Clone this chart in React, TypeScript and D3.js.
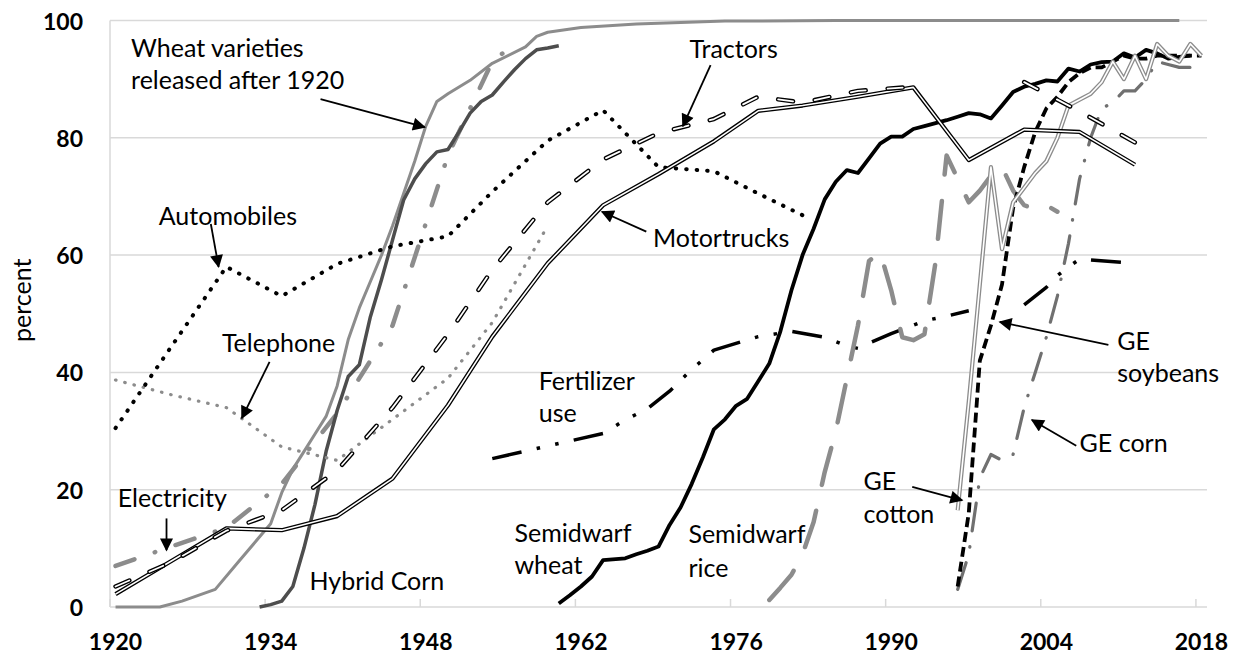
import React from "react";
import * as d3 from "d3";

const W = 1239;
const H = 656;
const PLOT = { left: 110, right: 1207, top: 20.5, bottom: 607 };
const FONT = "Lato, 'Open Sans', 'DejaVu Sans', sans-serif";

type Pt = [number, number | null];

// x axis / y axis
const xTickYears = [1920, 1934, 1948, 1962, 1976, 1990, 2004, 2018];
const yTicks = [0, 20, 40, 60, 80, 100];

// series (year, percent)
const wheatVarieties: Pt[] = [
  [1920, 0], [1924, 0], [1926, 1], [1929, 3], [1931, 7.5], [1934, 14.2], [1935, 19.5],
  [1936, 23.5], [1937, 26.5], [1938, 29.5], [1939, 32.5], [1940, 37.7], [1941, 45.6],
  [1942, 51], [1943, 55.5], [1944, 60], [1945, 65], [1946, 70.5], [1947, 76], [1948, 82],
  [1949, 86.2], [1950, 87.5], [1952, 89.8], [1954, 92.7], [1957, 95.5], [1958, 97.3],
  [1959, 98], [1962, 98.8], [1967, 99.4], [1975, 99.9], [1985, 100], [2016, 100],
];
const hybridCorn: Pt[] = [
  [1933, 0], [1934, 0.4], [1935, 1], [1936, 3.5], [1937, 10], [1938, 17.5], [1939, 26.5],
  [1940, 33.5], [1941, 39.3], [1942, 41.3], [1943, 49.5], [1944, 55.8], [1945, 62.6],
  [1946, 69.4], [1947, 73], [1948, 75.6], [1949, 77.6], [1950, 78], [1951, 81], [1952, 84.2],
  [1953, 86.2], [1954, 87.3], [1955, 89.5], [1956, 91.6], [1957, 93.5], [1958, 95],
  [1959, 95.3], [1960, 95.7],
];
const electricity: Pt[] = [
  [1920, 7], [1925, 10.3], [1930, 13.5], [1935, 21], [1940, 33], [1945, 48], [1950, 77],
  [1954, 93], [1956, 96],
];
const telephone: Pt[] = [
  [1920, 38.7], [1925, 36.2], [1930, 34], [1935, 27.3], [1940, 25], [1945, 32], [1950, 39],
  [1954, 48.5], [1959, 65],
];
const automobiles: Pt[] = [
  [1920, 30.5], [1925, 44.3], [1930, 58], [1935, 53], [1940, 58.5], [1945, 61.5],
  [1950, 63.2], [1954, 70.8], [1959, 79.5], [1964, 84.7], [1969, 75], [1974, 74.3],
  [1978, 70.5], [1982, 66.8],
];
const tractors: Pt[] = [
  [1920, 3.5], [1925, 7.6], [1930, 13], [1935, 16.5], [1940, 23.3], [1945, 34], [1950, 46.5],
  [1954, 57.5], [1959, 69], [1964, 76.3], [1969, 80.8], [1974, 83.2], [1978, 87], [1982, 86],
  [1987, 88], [1992, 88.7], [1997, null], [2002, 89.5], [2007, 84.5], [2012, 79.2],
];
const motortrucks: Pt[] = [
  [1920, 2.2], [1925, 7.8], [1930, 13.4], [1935, 13.1], [1940, 15.5], [1945, 21.9],
  [1950, 34.4], [1954, 46.1], [1959, 58.6], [1964, 68.5], [1969, 73.8], [1974, 79.4],
  [1978, 84.6], [1982, 85.5], [1987, 87], [1992, 88.6], [1997, 76.2], [2002, 81.4],
  [2007, 81], [2012, 75.4],
];
const fertilizer: Pt[] = [
  [1954, 25.3], [1964, 29.6], [1966, 31.9], [1968, 33.8], [1970, 36.8], [1972, 40.5],
  [1974, 43.8], [1978, 46.1], [1981, 47], [1984, 46], [1986, 44.5], [1987, 44.1], [1988, 45],
  [1990, 46.6], [1993, 48.8], [1995, 49.6], [1997, 50.5], [1999, null], [2002, 51.5],
  [2004, 54.5], [2005, 56.5], [2006, 58], [2007, 59.3], [2012, 58.6],
];
const semidwarfWheat: Pt[] = [
  [1960, 0.6], [1961, 2], [1962, 3.5], [1963, 5.2], [1964, 8], [1966, 8.3], [1967, 9],
  [1968, 9.6], [1969, 10.3], [1970, 14], [1971, 17], [1972, 21], [1973, 25.5], [1974, 30.3],
  [1975, 32], [1976, 34.3], [1977, 35.5], [1978, 38.5], [1979, 41.5], [1980, 47], [1981, 54],
  [1982, 60], [1983, 64.5], [1984, 69.5], [1985, 72.5], [1986, 74.5], [1987, 74],
  [1988, 76.5], [1989, 79], [1990, 80.2], [1991, 80.2], [1992, 81.5], [1993, 82],
  [1994, 82.5], [1995, 83], [1996, 83.6], [1997, 84.2], [1998, 84], [1999, 83.3],
  [2000, 85.5], [2001, 87.8], [2002, 88.7], [2003, 89.2], [2004, 89.8], [2005, 89.6],
  [2006, 91.8], [2007, 91.3], [2008, 92.5], [2009, 92.9], [2010, 93], [2011, 94.4],
  [2012, 93.7], [2013, 95], [2014, 94.4], [2015, 93.5], [2016, 93.8], [2017, 94],
];
const semidwarfRice: Pt[] = [
  [1979, 1.2], [1980, 3.3], [1981, 5.5], [1982, 9], [1983, 14.5], [1984, 23], [1985, 30],
  [1986, 39], [1987, 48], [1988, 59], [1989, 60.5], [1990, 54], [1991, 46], [1992, 45.5],
  [1993, 46.5], [1994, 58.8], [1995, 77], [1996, 73], [1997, 69], [1998, 71], [1999, 73.5],
  [2000, 75], [2001, 71], [2002, 68.5], [2003, 67.8], [2004, 68.5], [2005, 67.4],
];
const geSoybeans: Pt[] = [
  [1996, 3.5], [1997, 16], [1998, 42], [1999, 48], [2000, 55], [2001, 68], [2002, 75],
  [2003, 81], [2004, 85], [2005, 87], [2006, 89.5], [2007, 91], [2008, 92], [2009, 92],
  [2010, 93], [2011, 94], [2012, 93.5], [2013, 93.5], [2014, 94], [2015, 94], [2016, 94],
  [2017, 94], [2018, 94],
];
const geCorn: Pt[] = [
  [1996, 3], [1997, 9], [1998, 22], [1999, 26], [2000, 25], [2001, 26], [2002, 34],
  [2003, 40], [2004, 46], [2005, 53], [2006, 62], [2007, 73], [2008, 80], [2009, 85],
  [2010, 86], [2011, 88], [2012, 88], [2013, 90], [2014, 93], [2015, 92.5], [2016, 92],
  [2017, 92],
];
const geCotton: Pt[] = [
  [1996, 16.5], [1997, 35], [1998, 55], [1999, 75], [2000, 61], [2001, 69], [2002, 71.5],
  [2003, 74], [2004, 76], [2005, 80], [2006, 85.5], [2007, 86.5], [2008, 87.5], [2009, 89.5],
  [2010, 93], [2011, 90], [2012, 94], [2013, 90], [2014, 96], [2015, 94], [2016, 93],
  [2017, 96], [2018, 94],
];

type SeriesStyle = {
  data: Pt[];
  stroke: string;
  width: number;
  dash?: string;
  cap?: "round" | "butt";
  inner?: number; // white centre line -> outlined / double line
};

// draw order
const SERIES: SeriesStyle[] = [
  { data: wheatVarieties, stroke: "#8c8c8c", width: 3 },
  { data: electricity, stroke: "#8c8c8c", width: 4.5, dash: "20 21.5 0.5 21.5", cap: "round" },
  { data: hybridCorn, stroke: "#4d4d4d", width: 3.5 },
  { data: telephone, stroke: "#8c8c8c", width: 3.2, dash: "0.5 9", cap: "round" },
  { data: automobiles, stroke: "#000", width: 4, dash: "0.5 10", cap: "round" },
  { data: fertilizer, stroke: "#000", width: 3.5, dash: "30 15.5 3.5 15.5 3.5 15.5" },
  { data: semidwarfWheat, stroke: "#000", width: 3.8 },
  { data: semidwarfRice, stroke: "#8c8c8c", width: 4.5, dash: "38 26.5", cap: "round" },
  { data: geCorn, stroke: "#707070", width: 3.2, dash: "28 16 0.5 16", cap: "round" },
  { data: geSoybeans, stroke: "#000", width: 3.8, dash: "10 5" },
  { data: geCotton, stroke: "#8c8c8c", width: 4.2, inner: 1.6 },
  { data: motortrucks, stroke: "#000", width: 4.2, inner: 1.6 },
  { data: tractors, stroke: "#000", width: 4.5, dash: "15 22", cap: "round", inner: 1.8 },
];

// annotations in data units: [year, percent]
const LABELS: { lines: string[]; at: [number, number]; step: number }[] = [
  { lines: ["Wheat varieties", "released after 1920"], at: [1921.4, 93.8], step: 5.4 },
  { lines: ["Automobiles"], at: [1923.9, 65.1], step: 0 },
  { lines: ["Tractors"], at: [1971.8, 93.6], step: 0 },
  { lines: ["Motortrucks"], at: [1968.5, 61.4], step: 0 },
  { lines: ["Telephone"], at: [1929.6, 43.5], step: 0 },
  { lines: ["Electricity"], at: [1920.2, 17.0], step: 0 },
  { lines: ["Hybrid Corn"], at: [1937.5, 2.9], step: 0 },
  { lines: ["Fertilizer", "use"], at: [1958.2, 37.0], step: 5.4 },
  { lines: ["Semidwarf", "wheat"], at: [1956.0, 11.1], step: 5.5 },
  { lines: ["Semidwarf", "rice"], at: [1971.7, 10.9], step: 5.7 },
  { lines: ["GE", "soybeans"], at: [2010.4, 43.8], step: 5.4 },
  { lines: ["GE corn"], at: [2007.0, 26.5], step: 0 },
  { lines: ["GE", "cotton"], at: [1987.5, 19.9], step: 5.5 },
];

const ARROWS: { from: [number, number]; to: [number, number] }[] = [
  { from: [1938.5, 86.6], to: [1947.9, 81.8] },
  { from: [1928.6, 65.3], to: [1929.3, 58.0] },
  { from: [1973.7, 92.4], to: [1971.2, 82.0] },
  { from: [1967.9, 64.0], to: [1963.9, 67.4] },
  { from: [1933.9, 41.8], to: [1931.4, 32.2] },
  { from: [1924.6, 15.1], to: [1924.6, 9.7] },
  { from: [2009.6, 44.7], to: [1999.8, 48.6] },
  { from: [2006.7, 27.5], to: [2002.7, 31.9] },
  { from: [1991.9, 20.5], to: [1996.4, 18.2] },
];

const x = d3.scaleLinear().domain([1919.5, 2018.5]).range([PLOT.left, PLOT.right]);
const y = d3.scaleLinear().domain([0, 100]).range([PLOT.bottom, PLOT.top]);

const lineGen = d3
  .line<Pt>()
  .defined((d) => d[1] !== null)
  .x((d) => x(d[0]))
  .y((d) => y(d[1] as number));

const GRID = "#d9d9d9";

export default function App() {
  return (
    <svg
      width={W}
      height={H}
      style={{ position: "absolute", left: 0, top: 0, background: "#fff" }}
      fontFamily={FONT}
    >
      <defs>
        <marker
          id="arrowhead"
          viewBox="0 0 10 10"
          refX="9"
          refY="5"
          markerWidth="16"
          markerHeight="13"
          markerUnits="userSpaceOnUse"
          orient="auto"
        >
          <path d="M0,0 L10,5 L0,10 z" fill="#000" />
        </marker>
      </defs>

      {/* gridlines */}
      {yTicks.map((t) => (
        <line key={t} x1={PLOT.left} x2={PLOT.right} y1={y(t)} y2={y(t)} stroke={GRID} strokeWidth={1.5} />
      ))}
      <line x1={PLOT.left} x2={PLOT.left} y1={PLOT.top} y2={PLOT.bottom} stroke={GRID} strokeWidth={1.5} />
      {xTickYears.map((t) => (
        <line key={t} x1={x(t - 0.5)} x2={x(t - 0.5)} y1={PLOT.bottom} y2={PLOT.bottom - 8} stroke={GRID} strokeWidth={1.5} />
      ))}

      {/* series */}
      {SERIES.map((s, i) => {
        const d = lineGen(s.data) || "";
        return (
          <g key={i}>
            <path
              d={d}
              fill="none"
              stroke={s.stroke}
              strokeWidth={s.width}
              strokeDasharray={s.dash}
              strokeLinecap={s.cap || "butt"}
              strokeLinejoin="round"
            />
            {s.inner && (
              <path
                d={d}
                fill="none"
                stroke="#fff"
                strokeWidth={s.inner}
                strokeDasharray={s.dash}
                strokeLinecap={s.cap || "butt"}
                strokeLinejoin="round"
              />
            )}
          </g>
        );
      })}

      {/* arrows */}
      {ARROWS.map((a, i) => (
        <line
          key={i}
          x1={x(a.from[0])}
          y1={y(a.from[1])}
          x2={x(a.to[0])}
          y2={y(a.to[1])}
          stroke="#000"
          strokeWidth={1.8}
          markerEnd="url(#arrowhead)"
        />
      ))}

      {/* labels */}
      {LABELS.map((l, i) => (
        <text key={i} x={x(l.at[0])} fontSize={25} fill="#000">
          {l.lines.map((ln, j) => (
            <tspan key={j} x={x(l.at[0])} y={y(l.at[1] - j * l.step)}>
              {ln}
            </tspan>
          ))}
        </text>
      ))}

      {/* tick labels */}
      {yTicks.map((t) => (
        <text key={t} x={83} y={y(t)} textAnchor="end" dominantBaseline="central" fontSize={23} fontWeight="bold">
          {t}
        </text>
      ))}
      {xTickYears.map((t) => (
        <text key={t} x={x(t)} y={650} textAnchor="middle" fontSize={23} fontWeight="bold">
          {t}
        </text>
      ))}
      <text
        transform={`translate(21,${y(52.3)}) rotate(-90)`}
        textAnchor="middle"
        dominantBaseline="central"
        fontSize={25}
      >
        percent
      </text>
    </svg>
  );
}
